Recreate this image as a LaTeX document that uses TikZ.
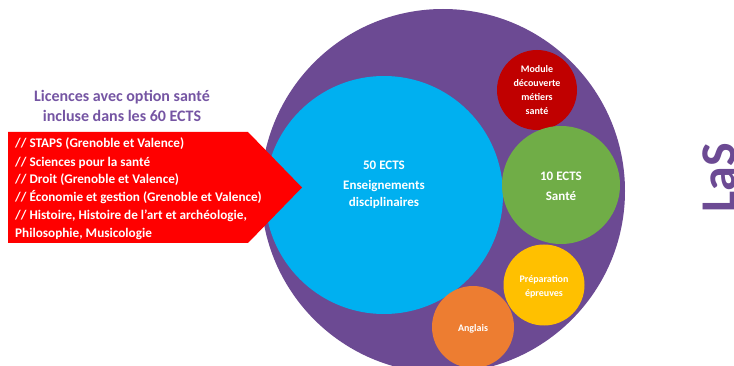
\documentclass[tikz,border=0pt]{standalone}
\usepackage{fontspec}
\setmainfont{Carlito}
\definecolor{lasPurple}{RGB}{108,74,147}
\definecolor{titlePurple}{RGB}{117,85,163}
\definecolor{lasBlue}{RGB}{0,176,240}
\definecolor{lasDarkRed}{RGB}{192,0,0}
\definecolor{lasGreen}{RGB}{112,173,71}
\definecolor{lasYellow}{RGB}{255,192,0}
\definecolor{lasOrange}{RGB}{237,125,49}
\definecolor{lasRed}{RGB}{255,0,0}
\begin{document}
\begin{tikzpicture}[x=1pt,y=-1pt,
  bubble/.style={circle,inner sep=0pt,draw=none,text=white,align=center,font=\bfseries},
  listline/.style={anchor=base west,inner sep=0pt,text=white,font=\fontsize{13.2}{18}\selectfont\bfseries},
  titleline/.style={anchor=base,inner sep=0pt,text=titlePurple,font=\fontsize{16}{20}\selectfont\bfseries}]
\useasboundingbox (0,0) rectangle (734,366);
\clip (0,0) rectangle (734,366);
% big purple circle
\node[bubble,fill=lasPurple,minimum size=364pt] (outer) at (443,191) {};
% blue circle
\node[bubble,fill=lasBlue,minimum size=238pt] (disc) at (384,195) {};
\node[align=center,inner sep=0pt,text=white,font=\fontsize{13}{19}\selectfont\bfseries] (disctext) at (384,185) {50 ECTS\\[1pt]Enseignements\\[-2pt]disciplinaires};
% module
\node[bubble,fill=lasDarkRed,minimum size=80pt,font=\fontsize{10}{13.7}\selectfont\bfseries] (module) at (537,90) {Module\\découverte\\métiers\\santé};
% green
\node[bubble,fill=lasGreen,minimum size=118pt] (sante) at (561,185) {};
\node[align=center,inner sep=0pt,text=white,font=\fontsize{13}{20}\selectfont\bfseries] (santetext) at (561,186) {10 ECTS\\Santé};
% yellow
\node[bubble,fill=lasYellow,minimum size=81pt] (prep) at (544,285) {};
\node[align=center,inner sep=0pt,text=white,font=\fontsize{10}{14}\selectfont\bfseries] (preptext) at (544,287) {Préparation\\épreuves};
% orange
\node[bubble,fill=lasOrange,minimum size=82pt] (anglais) at (473,327) {};
\node[inner sep=0pt,text=white,font=\fontsize{10}{14}\selectfont\bfseries] (angltext) at (473,329) {Anglais};
% red arrow
\fill[lasRed] (8,132) -- (248,132) -- (302,187.5) -- (248,243) -- (8,243) -- cycle;
\node[listline] (l1) at (15,148) {// STAPS (Grenoble et Valence)};
\node[listline] (l2) at (15,166.5) {// Sciences pour la santé};
\node[listline] (l3) at (15,184) {// Droit (Grenoble et Valence)};
\node[listline] (l4) at (15,202) {// Économie et gestion (Grenoble et Valence)};
\node[listline] (l5) at (15,220) {// Histoire, Histoire de l’art et archéologie,};
\node[listline] (l6) at (15,238) {Philosophie, Musicologie};
% title
\node[titleline] (t1) at (122,102) {Licences avec option santé};
\node[titleline] (t2) at (122,122) {incluse dans les 60 ECTS};
% side label
\node[anchor=base,inner sep=0pt,rotate=90,text=lasPurple,font=\fontsize{50}{50}\selectfont\bfseries] (las) at (735,178) {LaS};
\end{tikzpicture}
\end{document}
